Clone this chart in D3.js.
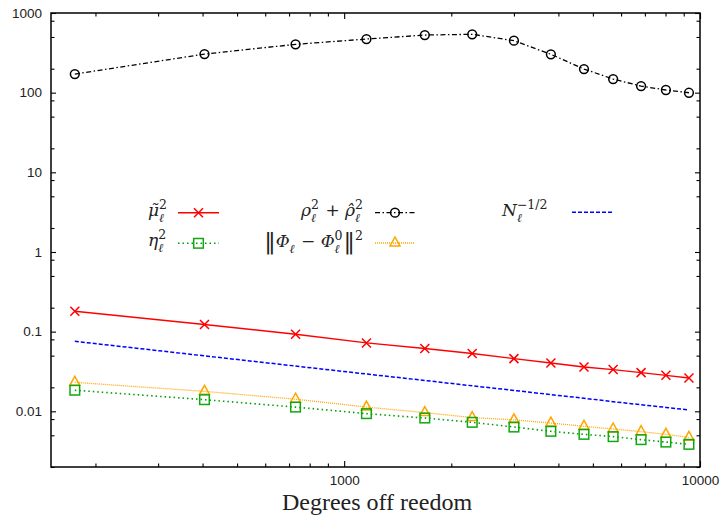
<!DOCTYPE html>
<html>
<head>
<meta charset="utf-8">
<script src="https://cdn.jsdelivr.net/npm/d3@7"></script>
<style>
  body { margin: 0; background: #fff; }
  .tick text { font-family: "Liberation Sans", Arial, sans-serif; font-size: 13.5px; fill: #222; }
  .tick line { stroke: #000; stroke-width: 1.1; }
</style>
</head>
<body>
<svg id="chart" width="724" height="517"></svg>
<script>
// Degrees of freedom (x) and the five error quantities (y)
var dof       = [175, 405, 730, 1155, 1685, 2290, 3000, 3810, 4720, 5700, 6830, 8020, 9310];
var muTilde   = [0.180, 0.123, 0.0927, 0.0722, 0.0614, 0.0531, 0.0459, 0.0404, 0.0360, 0.0334, 0.0306, 0.0283, 0.0262];
var rhoSum    = [171, 305, 404, 471, 529, 540, 449, 303, 198, 148, 121, 108, 99.7];
var nInvSqrt  = [0.0756, 0.0497, 0.0370, 0.0294, 0.0244, 0.0209, 0.0183, 0.0162, 0.0146, 0.0132, 0.0121, 0.0112, 0.0104];
var eta       = [0.0184, 0.0140, 0.0113, 0.00935, 0.00824, 0.00728, 0.00635, 0.00561, 0.00514, 0.00481, 0.00441, 0.00411, 0.00385];
var phiErr    = [0.0231, 0.0178, 0.0142, 0.0113, 0.00964, 0.00834, 0.00782, 0.00713, 0.00648, 0.00600, 0.00556, 0.00514, 0.00471];

// Ticks
var yMajor = [0.01, 0.1, 1, 10, 100, 1000];
var yLabels = ["0.01", "0.1", "1", "10", "100", "1000"];
var yMinor = [0.002, 0.005, 0.008, 0.02, 0.05, 0.08, 0.2, 0.5, 0.8, 2, 5, 8, 20, 50, 80, 200, 500, 800];
var xMajor = [1000, 10000];
var xLabels = ["1000", "10000"];
var xMinor = [200, 300, 400, 500, 600, 700, 800, 900, 2000, 3000, 4000, 5000, 6000, 7000, 8000, 9000];

var xTitle = "Degrees off reedom";

// Plot area
var margin = { top: 13, right: 24, bottom: 50, left: 51 };
var width = 724 - margin.left - margin.right;
var height = 517 - margin.top - margin.bottom;

var svg = d3.select("#chart");
var chart = svg.append("g")
    .attr("transform", "translate(" + margin.left + "," + margin.top + ")");

var x = d3.scaleLog().domain([150, 10000]).range([0, width]);
var y = d3.scaleLog().domain([0.002, 1000]).range([height, 0]);

// Axes: ticks point inwards on all four sides
function addAxis(axis, cls, tr) {
    var g = chart.append("g").attr("class", cls).call(axis);
    if (tr) g.attr("transform", tr);
    g.select(".domain").remove();
    return g;
}
addAxis(d3.axisLeft(y).tickValues(yMajor).tickFormat(function(d, i) { return yLabels[i]; })
    .tickSize(-5).tickPadding(9), "y axis");
addAxis(d3.axisLeft(y).tickValues(yMinor).tickFormat("").tickSize(-3.5), "y minor");
addAxis(d3.axisRight(y).tickValues(yMajor).tickFormat("").tickSize(-5), "y axis", "translate(" + width + ",0)");
addAxis(d3.axisRight(y).tickValues(yMinor).tickFormat("").tickSize(-3.5), "y minor", "translate(" + width + ",0)");
addAxis(d3.axisBottom(x).tickValues(xMajor).tickFormat(function(d, i) { return xLabels[i]; })
    .tickSize(-6).tickPadding(8), "x axis", "translate(0," + height + ")");
addAxis(d3.axisBottom(x).tickValues(xMinor).tickFormat("").tickSize(-3.5), "x minor", "translate(0," + height + ")");
addAxis(d3.axisTop(x).tickValues(xMajor).tickFormat("").tickSize(-6), "x axis");
addAxis(d3.axisTop(x).tickValues(xMinor).tickFormat("").tickSize(-3.5), "x minor");

// Frame
chart.append("rect")
    .attr("width", width)
    .attr("height", height)
    .attr("fill", "none")
    .attr("stroke", "#000")
    .attr("stroke-width", 1.5);

// x-axis title
svg.append("text")
    .attr("x", 377)
    .attr("y", 510)
    .attr("text-anchor", "middle")
    .style("font-family", "'Liberation Serif', 'Times New Roman', serif")
    .style("font-size", "24px")
    .style("fill", "#222")
    .text(xTitle);

// Markers
function drawMarker(g, kind, cx, cy, color) {
    if (kind === "x") {
        g.append("path")
            .attr("d", "M" + (cx - 4.5) + "," + (cy - 4.5) + "L" + (cx + 4.5) + "," + (cy + 4.5) +
                       "M" + (cx - 4.5) + "," + (cy + 4.5) + "L" + (cx + 4.5) + "," + (cy - 4.5))
            .attr("stroke", color).attr("stroke-width", 1.5).attr("fill", "none");
    } else if (kind === "circle") {
        g.append("circle").attr("cx", cx).attr("cy", cy).attr("r", 4.4)
            .attr("stroke", color).attr("stroke-width", 1.5).attr("fill", "none");
    } else if (kind === "square") {
        g.append("rect").attr("x", cx - 4.8).attr("y", cy - 4.8).attr("width", 9.6).attr("height", 9.6)
            .attr("stroke", color).attr("stroke-width", 1.5).attr("fill", "none");
    } else if (kind === "triangle") {
        g.append("path")
            .attr("d", "M" + cx + "," + (cy - 6) + "L" + (cx + 5) + "," + (cy + 3) + "L" + (cx - 5) + "," + (cy + 3) + "Z")
            .attr("stroke", color).attr("stroke-width", 1.5).attr("fill", "none");
    }
}

var series = [
    { values: rhoSum,   color: "#000",    dash: "5,2.5,1.5,2.5", width: 1.3, marker: "circle",   mcolor: "#000" },
    { values: muTilde,  color: "#ff0000", dash: null,            width: 1.4, marker: "x",        mcolor: "#ff0000" },
    { values: nInvSqrt, color: "#0000ff", dash: "4,2",           width: 1.5, marker: null,       mcolor: null },
    { values: phiErr,   color: "#ffa500", dash: "1,1",           width: 1.3, marker: "triangle", mcolor: "#ffa500" },
    { values: eta,      color: "#00a000", dash: "1.5,3",         width: 1.6, marker: "square",   mcolor: "#10a810" }
];

var line = d3.line()
    .x(function(d) { return x(d[0]); })
    .y(function(d) { return y(d[1]); });

series.forEach(function(s) {
    var pts = dof.map(function(d, i) { return [d, s.values[i]]; });
    chart.append("path")
        .datum(pts)
        .attr("d", line)
        .attr("fill", "none")
        .attr("stroke", s.color)
        .attr("stroke-width", s.width)
        .attr("stroke-dasharray", s.dash);
    if (s.marker) {
        var mg = chart.append("g");
        pts.forEach(function(p) { drawMarker(mg, s.marker, x(p[0]), y(p[1]), s.mcolor); });
    }
});

// Legend (math labels built from pieces: base glyph + sub/superscript)
var serif = "'DejaVu Serif', 'Liberation Serif', serif";
function mathLabel(xPos, base, pieces, anchor) {
    var g = svg.append("g");
    var cur = 0;
    pieces.forEach(function(p) {
        var t = g.append("text")
            .attr("x", cur).attr("y", base + (p.dy || 0))
            .style("font-family", serif)
            .style("font-size", (p.size || 17) + "px")
            .style("font-style", p.upright ? "normal" : "italic")
            .style("fill", "#222")
            .style("white-space", "pre")
            .text(p.t);
        cur += t.node().getComputedTextLength() + (p.gap || 0);
        if (p.sub || p.sup) {
            var w = 0;
            if (p.sub) {
                var s1 = g.append("text").attr("x", cur).attr("y", base + 5.5)
                    .style("font-family", serif).style("font-size", "12px")
                    .style("font-style", "italic").style("fill", "#222").text(p.sub);
                w = Math.max(w, s1.node().getComputedTextLength());
            }
            if (p.sup) {
                var s2 = g.append("text").attr("x", cur).attr("y", base - 7.5)
                    .style("font-family", serif).style("font-size", "12.5px")
                    .style("fill", "#222").text(p.sup);
                w = Math.max(w, s2.node().getComputedTextLength());
            }
            cur += w + 1;
        }
    });
    var shift = anchor === "end" ? xPos - cur : xPos;
    g.attr("transform", "translate(" + shift + ",0)");
}

mathLabel(148, 216, [{ t: "\u03bc\u0303", sub: "\u2113", sup: "2" }]);
mathLabel(148, 246, [{ t: "\u03b7", sub: "\u2113", sup: "2" }]);
mathLabel(364, 216, [{ t: "\u03c1", sub: "\u2113", sup: "2" }, { t: " + ", upright: true },
                     { t: "\u03c1\u0302", sub: "\u2113", sup: "2" }], "end");
mathLabel(364, 247, [{ t: "\u2016", upright: true, size: 23, dy: 2 }, { t: "\u03a6", sub: "\u2113" },
                     { t: " \u2212 ", upright: true }, { t: "\u03a6", sub: "\u2113", sup: "0" },
                     { t: "\u2016", upright: true, size: 23, dy: 2, sup: "2" }], "end");
mathLabel(502, 216, [{ t: "N", sub: "\u2113", sup: "\u22121/2" }]);

var legendRows = [
    { x1: 178, x2: 219, y: 212.7, s: series[1] },
    { x1: 178, x2: 219, y: 243.3, s: series[4] },
    { x1: 375, x2: 415, y: 212.7, s: series[0] },
    { x1: 375, x2: 415, y: 243,   s: series[3] },
    { x1: 572, x2: 613, y: 212.3, s: series[2] }
];
legendRows.forEach(function(r) {
    svg.append("line")
        .attr("x1", r.x1).attr("x2", r.x2).attr("y1", r.y).attr("y2", r.y)
        .attr("stroke", r.s.color)
        .attr("stroke-width", r.s.width)
        .attr("stroke-dasharray", r.s.dash);
    if (r.s.marker) drawMarker(svg, r.s.marker, (r.x1 + r.x2) / 2, r.y, r.s.mcolor);
});
</script>
</body>
</html>
